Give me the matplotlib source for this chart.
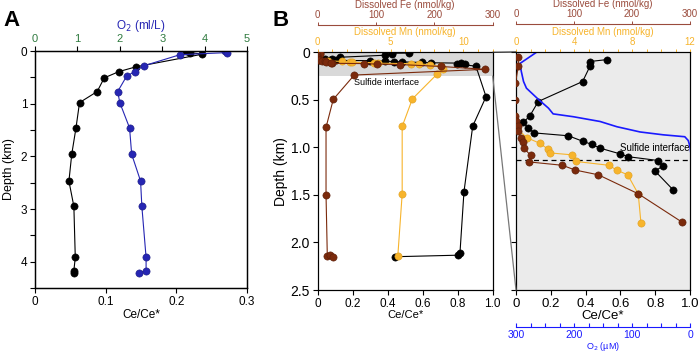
import numpy as np
import matplotlib
matplotlib.use("Agg")
import matplotlib.pyplot as plt
from matplotlib.patches import ConnectionPatch
from matplotlib.ticker import MultipleLocator

plt.rcParams['font.family'] = ['Liberation Sans', 'DejaVu Sans']

# ---- panel A: water column profile (depth in km) ----
a_ce_depth = [0.0, 0.03, 0.06, 0.30, 0.39, 0.51, 0.77, 0.98, 1.46, 1.96, 2.47, 2.95, 3.92, 4.17, 4.22]
a_ce = [0.213, 0.219, 0.237, 0.143, 0.119, 0.098, 0.088, 0.063, 0.058, 0.052, 0.048, 0.055, 0.057, 0.055, 0.055]
a_o2_depth = [0.0, 0.03, 0.07, 0.28, 0.39, 0.48, 0.77, 0.98, 1.46, 1.96, 2.47, 2.95, 3.92, 4.17, 4.22]
a_o2 = [4.49, 4.54, 3.42, 2.57, 2.35, 2.16, 1.95, 2.00, 2.23, 2.28, 2.49, 2.52, 2.62, 2.62, 2.45]

# ---- panel B: anoxic basin profile (depth in km) ----
b_ce_depth = [0.008, 0.010, 0.015, 0.031, 0.052, 0.067, 0.074, 0.080, 0.085, 0.088, 0.094,
              0.097, 0.101, 0.107, 0.110, 0.114, 0.120, 0.125, 0.145,
              0.467, 0.776, 1.467, 2.116, 2.134, 2.150]
b_ce = [0.521, 0.425, 0.425, 0.383, 0.128, 0.080, 0.042, 0.071, 0.105, 0.301, 0.387,
        0.435, 0.483, 0.598, 0.645, 0.818, 0.843, 0.799, 0.904,
        0.962, 0.886, 0.836, 0.813, 0.800, 0.442]

b_fe_depth = [0.005, 0.015, 0.033, 0.050, 0.067, 0.073, 0.078, 0.083, 0.090, 0.095, 0.101,
              0.1085, 0.1155, 0.119, 0.124, 0.129, 0.149, 0.179,
              0.239, 0.495, 0.79, 1.50, 2.144, 2.134, 2.158]
b_fe = [4.0, 4.0, -1.0, -1.0, -2.0, 0.0, 3.4, 3.4, 7.8, 12.0, 13.8,
        25.0, 23.0, 80.0, 102.0, 142.0, 211.0, 287.0,
        63.0, 27.0, 14.6, 14.6, 16.8, 21.4, 26.0]

b_mn_depth = [0.005, 0.015, 0.033, 0.050, 0.066, 0.069, 0.080, 0.090, 0.096, 0.102, 0.106,
              0.108, 0.115, 0.119, 0.124, 0.129, 0.149, 0.180,
              0.228, 0.49, 0.78, 1.49, 2.144]
b_mn = [-0.15, -0.15, -0.15, -0.15, -0.14, -0.14, 0.05, 0.74, 1.66, 2.20, 2.34,
        3.84, 4.14, 6.41, 6.94, 7.70, 8.43, 8.62,
        8.2, 6.5, 5.8, 5.8, 5.5]

b_o2_depth = [0.000, 0.012, 0.020, 0.031, 0.038, 0.050, 0.059, 0.065, 0.068, 0.073,
              0.0785, 0.084, 0.087, 0.089, 0.093, 0.0995, 0.113]
b_o2 = [264, 293, 291, 287, 282, 261, 244, 236, 201, 155, 126, 86, 46, 9, 3, 0, -3]

sulfide_depth = 0.113
zoom_depth = 0.25
inset_max = 0.2   # the zoom panel only shows the upper samples

BLACK = 'black'
BLUE_A = '#2626b3'
BLUE_B = '#1a1aff'
GREEN = '#2f7a3f'
BROWN = '#7b2a0c'
FE_TXT = '#9a4b3c'
MN = '#f7b42c'

W, H = 699, 352
def box(l, t, r, b):
    return [l / W, 1 - b / H, (r - l) / W, (b - t) / H]

def upper(vals, depths):
    v, d = np.asarray(vals), np.asarray(depths)
    keep = d <= inset_max
    return v[keep], d[keep]

fig = plt.figure(figsize=(6.99, 3.52), dpi=100)

mk = dict(marker='o', ms=5.2, lw=0.8, mew=0.4)

# ================= A =================
axA = fig.add_axes(box(35, 51, 247, 288))
axA.set_xlim(0, 0.3)
axA.set_ylim(4.5, 0)
axA.set_xticks([0, 0.1, 0.2, 0.3])
axA.set_xticklabels(['0', '0.1', '0.2', '0.3'])
axA.set_yticks([0, 1, 2, 3, 4])
axA.yaxis.set_minor_locator(MultipleLocator(0.5))
axA.tick_params(which='both', direction='out', length=3.5, width=0.8, labelsize=8.5, pad=2)
axA.set_xlabel('Ce/Ce*', fontsize=8.5, labelpad=1)
axA.set_ylabel('Depth (km)', fontsize=9, labelpad=4)
axA.plot(a_ce, a_ce_depth, color=BLACK, mec=BLACK, **mk)

axA2 = axA.twiny()
axA2.set_xlim(0, 5)
axA2.set_xticks([0, 1, 2, 3, 4, 5])
axA2.tick_params(direction='out', length=3.5, width=0.8, labelsize=8, labelcolor=GREEN, pad=1.5)
axA2.set_xlabel('O$_2$ (ml/L)', color=BLUE_A, fontsize=8.5, labelpad=4)
axA2.plot(a_o2, a_o2_depth, color=BLUE_A, mec='#1a1a80', **mk)
for ax in (axA, axA2):
    for s in ax.spines.values():
        s.set_linewidth(0.9)


def chem_axes(ax, mn_major, fe_major):
    mn_ax = ax.twiny()
    mn_ax.set_xlim(0, 12)
    mn_ax.set_xticks(mn_major)
    mn_ax.xaxis.set_minor_locator(MultipleLocator(1))
    mn_ax.tick_params(which='both', direction='out', length=2.5, width=0.7,
                      color=MN, labelcolor=MN, labelsize=7, pad=1)
    mn_ax.set_xlabel('Dissolved Mn (nmol/kg)', color=MN, fontsize=7, labelpad=1.5)
    fe_ax = ax.twiny()
    fe_ax.set_xlim(0, 300)
    fe_ax.set_xticks(fe_major)
    fe_ax.spines['top'].set_position(('outward', 20))
    fe_ax.spines['top'].set_color(FE_TXT)
    for s in ('bottom', 'left', 'right'):
        fe_ax.spines[s].set_visible(False)
    fe_ax.tick_params(direction='out', length=2.5, width=0.7, color=FE_TXT,
                      labelcolor=FE_TXT, labelsize=7, pad=1)
    fe_ax.set_xlabel('Dissolved Fe (nmol/kg)', color=FE_TXT, fontsize=7, labelpad=1.5)
    return mn_ax, fe_ax

# ================= B overview =================
axB = fig.add_axes(box(317.5, 52.3, 492.7, 290))
axB.set_xlim(0, 1)
axB.set_ylim(2.5, 0)
axB.axhspan(0, zoom_depth, color='#d9d9d9', lw=0, zorder=0)
axB.set_xticks(np.arange(0, 1.01, 0.2))
axB.set_xticklabels(['0', '0.2', '0.4', '0.6', '0.8', '1.0'])
axB.set_yticks(np.arange(0, 2.51, 0.5))
axB.set_yticklabels(['0', '0.5', '1.0', '1.5', '2.0', '2.5'])
axB.tick_params(axis='y', direction='out', length=3.5, width=0.8, labelsize=10, pad=2)
axB.tick_params(axis='x', direction='out', length=3.5, width=0.8, labelsize=8.5, pad=2)
axB.set_xlabel('Ce/Ce*', fontsize=8, labelpad=0)
axB.set_ylabel('Depth (km)', fontsize=10, labelpad=2)
axB.text(0.21, 0.32, 'Sulfide interface', fontsize=6.5, va='center')
axB.plot(b_ce, b_ce_depth, color=BLACK, mec=BLACK, **mk)
mnB, feB = chem_axes(axB, [0, 5, 10], [0, 100, 200, 300])
mnB.plot(b_mn, b_mn_depth, color=MN, mec='#e0a020', **mk)
feB.plot(b_fe, b_fe_depth, color=BROWN, mec='#5a1e08', **mk)

# ================= B zoom =================
axC = fig.add_axes(box(516, 52, 690, 290))
axC.set_facecolor('#ebebeb')
axC.set_xlim(0, 1)
axC.set_ylim(zoom_depth, 0)
axC.set_xticks(np.arange(0, 1.01, 0.2))
axC.set_xticklabels(['0', '0.2', '0.4', '0.6', '0.8', '1.0'])
axC.set_yticks(np.arange(0, 0.251, 0.05))
axC.set_yticklabels([])
axC.tick_params(direction='out', length=3.5, width=0.8, labelsize=9.5, pad=2)
axC.set_xlabel('Ce/Ce*', fontsize=9.5, labelpad=0)
axC.axhline(sulfide_depth, ls=(0, (4, 3)), color='black', lw=0.9)
axC.text(0.995, 0.1005, 'Sulfide interface', fontsize=7, ha='right', va='center')

o2C = axC.twiny()
o2C.set_xlim(300, 0)
o2C.xaxis.set_ticks_position('bottom')
o2C.xaxis.set_label_position('bottom')
o2C.spines['bottom'].set_position(('outward', 26.5))
o2C.spines['bottom'].set_color(BLUE_B)
for s in ('top', 'left', 'right'):
    o2C.spines[s].set_visible(False)
o2C.set_xticks([300, 200, 100, 0])
o2C.xaxis.set_minor_locator(MultipleLocator(25))
o2C.tick_params(which='both', direction='in', length=3, width=0.8, color=BLUE_B,
                labelcolor=BLUE_B, labelsize=7.5, pad=2)
o2C.set_xlabel('O$_2$ (\u00b5M)', color=BLUE_B, fontsize=6.5, labelpad=0)
o2C.plot(b_o2, b_o2_depth, color=BLUE_B, lw=1.2)

ce_u, ce_ud = upper(b_ce, b_ce_depth)
mn_u, mn_ud = upper(b_mn, b_mn_depth)
fe_u, fe_ud = upper(b_fe, b_fe_depth)
axC.plot(ce_u, ce_ud, color=BLACK, mec=BLACK, **mk)
mnC, feC = chem_axes(axC, [0, 4, 8, 12], [0, 100, 200, 300])
mnC.plot(mn_u, mn_ud, color=MN, mec='#e0a020', **mk)
feC.plot(fe_u, fe_ud, color=BROWN, mec='#5a1e08', **mk)

# zoom connector lines
for y0, col in ((0, '#222222'), (zoom_depth, '#777777')):
    con = ConnectionPatch(xyA=(1, y0), coordsA=axB.transData,
                          xyB=(0, y0), coordsB=axC.transData,
                          color=col, lw=0.9)
    fig.add_artist(con)

fig.text(3 / W, 1 - 20 / H, 'A', fontsize=16, fontweight='bold', va='center')
fig.text(272 / W, 1 - 20 / H, 'B', fontsize=16, fontweight='bold', va='center')

fig.savefig('out.png', dpi=100)
